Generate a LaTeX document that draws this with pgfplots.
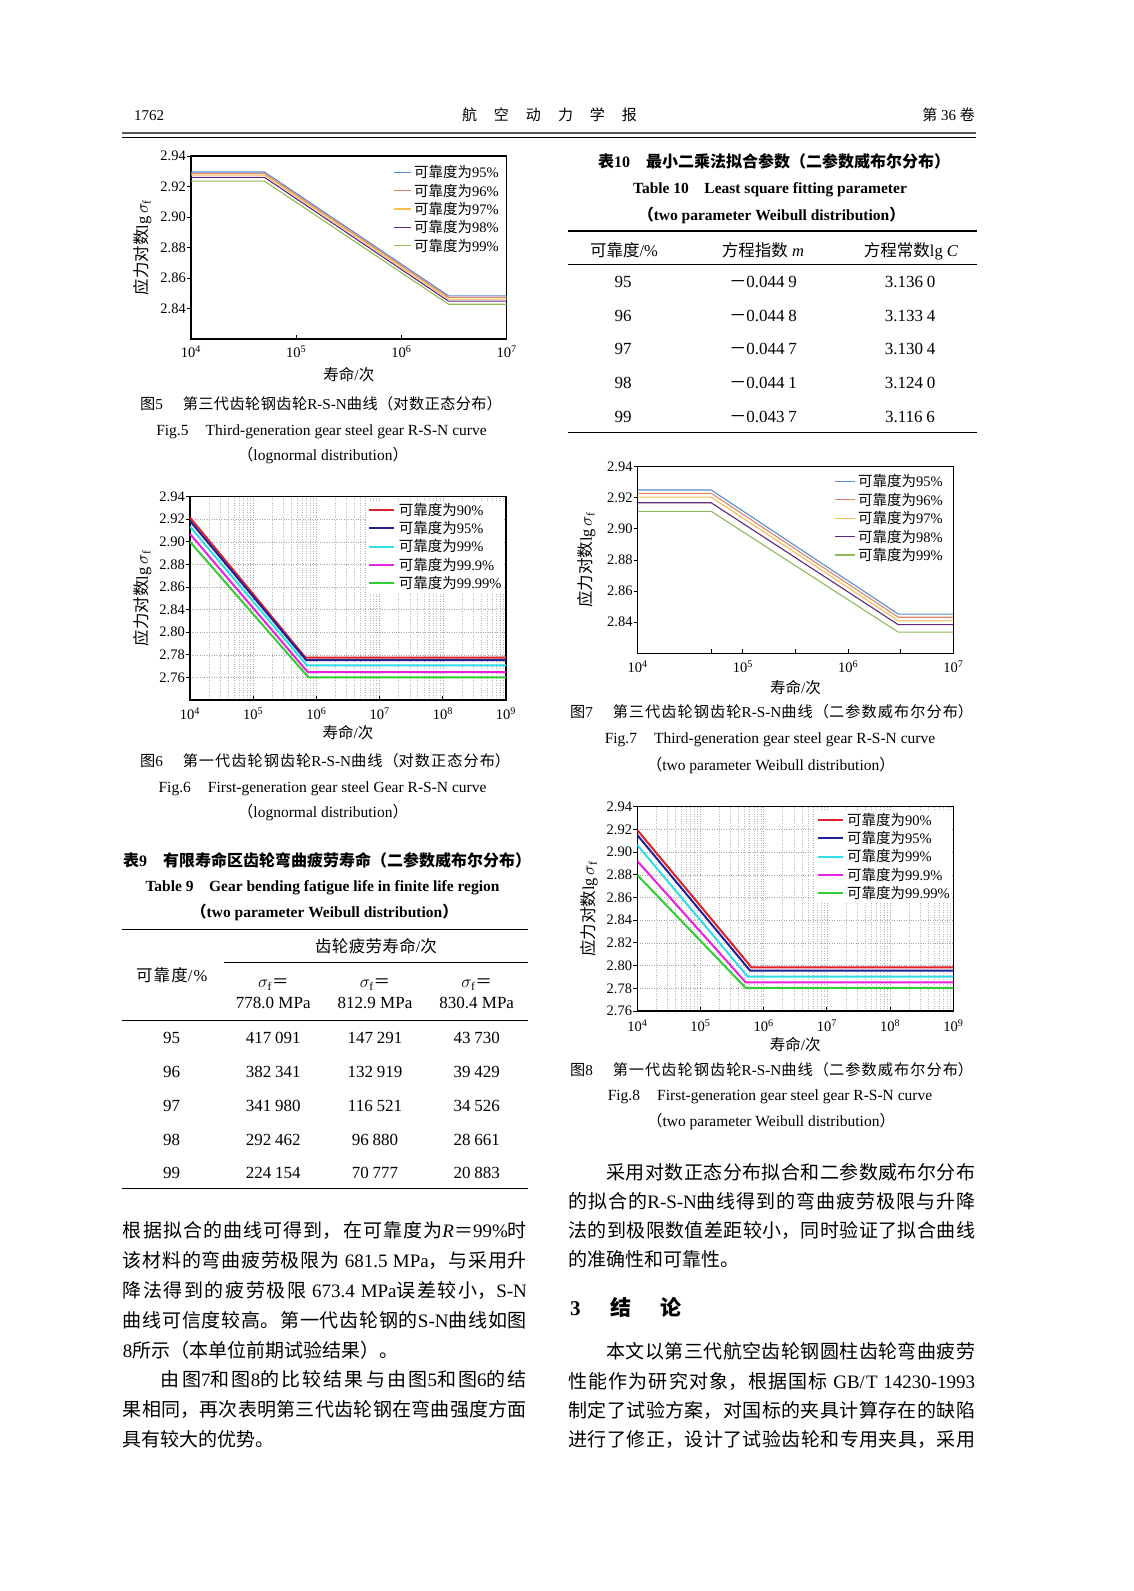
\documentclass[border=0pt]{standalone}
\usepackage{fontspec}
\usepackage{pgfplots}
\pgfplotsset{compat=1.18}
\setmainfont{Liberation Serif}
\newfontfamily\cjk{Noto Sans CJK SC}

% switch to the CJK font for Chinese characters, back to the serif for the rest
\XeTeXinterchartokenstate=1
\newXeTeXintercharclass\cjkclass
\newcount\cc
\def\setclass#1#2#3{\cc=#1\relax\loop\XeTeXcharclass\cc=#3\relax\ifnum\cc<#2\relax\advance\cc by 1\relax\repeat}
\setclass{33}{591}{0}
\setclass{"3000}{"303F}{\cjkclass}
\setclass{"4E00}{"9FFF}{\cjkclass}
\setclass{"FF00}{"FFEF}{\cjkclass}
\XeTeXinterchartoks 0 \cjkclass = {\cjk}
\XeTeXinterchartoks 4095 \cjkclass = {\cjk}
\XeTeXinterchartoks \cjkclass 0 = {\rmfamily}
\XeTeXinterchartoks \cjkclass 4095 = {\rmfamily}
\XeTeXlinebreaklocale "zh"
\XeTeXlinebreakskip=0pt plus 3pt

\newsavebox\jb
\newcommand\jbox[2]{\sbox\jb{#2}\ifdim\wd\jb<#1\relax\parbox[b]{#1}{\parfillskip=0pt\parindent=0pt\hbadness=10000\relax#2}\else\usebox\jb\fi}
\newcommand\TL[3]{\node[anchor=base west,inner sep=0pt] at (#1pt,-#2pt) {#3};}
\newcommand\TC[3]{\node[anchor=base,inner sep=0pt] at (#1pt,-#2pt) {#3};}
\newcommand\TR[3]{\node[anchor=base east,inner sep=0pt] at (#1pt,-#2pt) {#3};}
\newcommand\gs{\hspace{0.22em}}

\newcommand\fhd{\fontsize{15}{15}\selectfont}
\newcommand\fbody{\fontsize{19}{19}\selectfont}
\newcommand\ftit{\bfseries\fontsize{16}{16}\selectfont}
\newcommand\fetit{\bfseries\fontsize{15.5}{15.5}\selectfont}
\newcommand\fcap{\fontsize{15.2}{15.2}\selectfont}
\newcommand\fecap{\fontsize{15.5}{15.5}\selectfont}
\newcommand\ftab{\fontsize{16.5}{16.5}\selectfont}
\newcommand\fnum{\fontsize{17}{17}\selectfont}
\newcommand\fsec{\bfseries\fontsize{21}{21}\selectfont}

\definecolor{cA}{RGB}{84,141,212}
\definecolor{cB}{RGB}{226,134,104}
\definecolor{cC}{RGB}{244,190,80}
\definecolor{cD}{RGB}{96,40,124}
\definecolor{cE}{RGB}{142,186,92}
\definecolor{sR}{RGB}{222,32,40}
\definecolor{sB}{RGB}{32,32,150}
\definecolor{sC}{RGB}{48,222,232}
\definecolor{sM}{RGB}{232,32,224}
\definecolor{sG}{RGB}{52,204,52}

\pgfplotsset{
  rsn/.style={
    scale only axis, anchor=south west,
    axis line style={line width=1.1pt},
    tick style={line width=0.9pt, black},
    major tick length=4pt, minor tick length=0pt,
    tick pos=left, xtick align=inside, ytick align=outside,
    tick label style={font=\fontsize{14.5}{14.5}\selectfont},
    yticklabel style={inner sep=1pt},
    xlabel style={font=\fontsize{15.5}{15.5}\selectfont},
    ylabel style={font=\fontsize{16.5}{16.5}\selectfont},
    legend cell align=left,
    legend style={draw=none, fill=none, inner sep=0pt, at={(rel axis cs:1,1)},
      anchor=north east, font=\fontsize{14.5}{14.5}\selectfont,
      row sep=3.6pt, column sep=2pt, nodes={inner sep=0.5pt}},
  },
  gridded/.style={
    grid=both,
    major grid style={dotted, gray!70, line width=0.6pt},
    minor grid style={dotted, gray!55, line width=0.5pt},
    minor xtick={2e4,3e4,4e4,5e4,6e4,7e4,8e4,9e4,2e5,3e5,4e5,5e5,6e5,7e5,8e5,9e5,
      2e6,3e6,4e6,5e6,6e6,7e6,8e6,9e6,2e7,3e7,4e7,5e7,6e7,7e7,8e7,9e7,
      2e8,3e8,4e8,5e8,6e8,7e8,8e8,9e8},
    xtick={1e4,1e5,1e6,1e7,1e8,1e9},
    xticklabels={10\textsuperscript{4},10\textsuperscript{5},10\textsuperscript{6},
      10\textsuperscript{7},10\textsuperscript{8},10\textsuperscript{9}},
  },
  l5/.style={line width=1.1pt},
  l6/.style={line width=2pt},
}

\begin{document}
\begin{tikzpicture}
\path[use as bounding box] (0pt,0pt) rectangle (1134pt,-1591pt);
\fill[white] (0pt,0pt) rectangle (1134pt,-1591pt);

% running head
\TL{134}{120}{\fhd 1762}
\TC{549.5}{120}{\fhd 航\hspace{17pt}空\hspace{17pt}动\hspace{17pt}力\hspace{17pt}学\hspace{17pt}报}
\TR{975}{120}{\fhd 第 36 卷}
\draw[line width=1.5pt, black!65] (122pt,-133pt) -- (976pt,-133pt);
\draw[line width=0.6pt] (122pt,-137pt) -- (976pt,-137pt);

% ---------- Fig. 5 ----------
\begin{semilogxaxis}[rsn, at={(191pt,-339pt)}, width=315.7pt, height=183pt,
  xmin=1e4, xmax=1e7, ymin=2.82, ymax=2.94,
  xtick={1e4,1e5,1e6,1e7},
  xticklabels={10\textsuperscript{4},10\textsuperscript{5},10\textsuperscript{6},10\textsuperscript{7}},
  ytick={2.84,2.86,2.88,2.90,2.92,2.94},
  yticklabels={2.84,2.86,2.88,2.90,2.92,2.94},
  xticklabel style={anchor=center, yshift=-12.7pt},
  xlabel={寿命/次}, ylabel={应力对数lg\,$\sigma_{\mathrm{f}}$},
  xlabel style={at={(axis description cs:0.5,0)}, anchor=center, yshift=-36pt},
  ylabel style={at={(axis description cs:-0.153,0.5)}, anchor=center},
  legend style={xshift=-7.2pt, yshift=-8.7pt},
  legend image code/.code={\draw[#1] (0pt,0pt) -- (17pt,0pt);},
]
\addplot[color=cA, l5] coordinates {(1e4,2.9295)(5e4,2.9295)(2.8e6,2.8483)(1e7,2.8483)};
\addlegendentry{可靠度为95\%}
\addplot[color=cB, l5] coordinates {(1e4,2.9285)(5e4,2.9285)(2.8e6,2.8473)(1e7,2.8473)};
\addlegendentry{可靠度为96\%}
\addplot[color=cC, l5] coordinates {(1e4,2.9275)(5e4,2.9275)(2.8e6,2.8462)(1e7,2.8462)};
\addlegendentry{可靠度为97\%}
\addplot[color=cD, l5] coordinates {(1e4,2.9260)(5e4,2.9260)(2.8e6,2.8448)(1e7,2.8448)};
\addlegendentry{可靠度为98\%}
\addplot[color=cE, l5] coordinates {(1e4,2.9235)(5e4,2.9235)(2.8e6,2.8428)(1e7,2.8428)};
\addlegendentry{可靠度为99\%}
\end{semilogxaxis}
\TL{140}{409.1}{\fcap\jbox{361.7pt}{图5\hspace{1.3em}第三代齿轮钢齿轮R-S-N曲线（对数正态分布）}}
\TC{321.5}{435}{\fecap Fig.5\hspace{1.1em}Third-generation gear steel gear R-S-N curve}
\TC{323}{460.8}{\fecap （lognormal distribution）}

% ---------- Fig. 6 ----------
\begin{semilogxaxis}[rsn, gridded, at={(190pt,-700pt)}, width=316pt, height=203.3pt,
  xmin=1e4, xmax=1e9, ymin=2.74, ymax=2.92,
  ytick={2.76,2.78,2.80,2.82,2.84,2.86,2.88,2.90,2.92},
  yticklabels={2.76,2.78,2.80,2.84,2.86,2.88,2.90,2.92,2.94},
  xticklabel style={anchor=center, yshift=-14pt},
  xlabel={寿命/次}, ylabel={应力对数lg\,$\sigma_{\mathrm{f}}$},
  xlabel style={at={(axis description cs:0.5,0)}, anchor=center, yshift=-33pt},
  ylabel style={at={(axis description cs:-0.150,0.5)}, anchor=center},
  legend style={fill=white, inner sep=2pt, xshift=-1.8pt, yshift=-3.6pt, column sep=3pt},
  legend image code/.code={\draw[#1] (0pt,0pt) -- (25pt,0pt);},
]
\addplot[color=sR, l6] coordinates {(1e4,2.9015)(6.7e5,2.7776)(1e9,2.7776)};
\addlegendentry{可靠度为90\%}
\addplot[color=sB, l6] coordinates {(1e4,2.8985)(6.9e5,2.7753)(1e9,2.7753)};
\addlegendentry{可靠度为95\%}
\addplot[color=sC, l6] coordinates {(1e4,2.8935)(7.1e5,2.7706)(1e9,2.7706)};
\addlegendentry{可靠度为99\%}
\addplot[color=sM, l6] coordinates {(1e4,2.8870)(7.3e5,2.7647)(1e9,2.7647)};
\addlegendentry{可靠度为99.9\%}
\addplot[color=sG, l6] coordinates {(1e4,2.8800)(7.5e5,2.7600)(1e9,2.7600)};
\addlegendentry{可靠度为99.99\%}
\end{semilogxaxis}
\TL{140}{766.8}{\fcap\jbox{370pt}{图6\hspace{1.3em}第一代齿轮钢齿轮R-S-N曲线（对数正态分布）}}
\TC{322.5}{792.7}{\fecap Fig.6\hspace{1.1em}First-generation gear steel Gear R-S-N curve}
\TC{323}{817.5}{\fecap （lognormal distribution）}

% ---------- Table 9 ----------
\TL{123}{866}{\ftit\jbox{404pt}{表9\quad 有限寿命区齿轮弯曲疲劳寿命（二参数威布尔分布）}}
\TC{322.5}{891}{\fetit Table 9\quad Gear bending fatigue life in finite life region}
\TC{324.5}{917.2}{\fetit （two parameter Weibull distribution）}
\draw[line width=1.4pt] (121.7pt,-929.3pt) -- (528.3pt,-929.3pt);
\TC{376}{952.7}{\ftab\jbox{121.7pt}{齿轮疲劳寿命/次}}
\draw[line width=0.8pt] (224pt,-962.7pt) -- (528.3pt,-962.7pt);
\TC{171.7}{981.7}{\ftab\jbox{71.3pt}{可靠度/\%}}
\TC{273.3}{987.7}{\ftab $\sigma_{\mathrm{f}}$＝}
\TC{375}{987.7}{\ftab $\sigma_{\mathrm{f}}$＝}
\TC{476.7}{987.7}{\ftab $\sigma_{\mathrm{f}}$＝}
\TC{273.3}{1008.8}{\fnum 778.0 MPa}
\TC{375}{1008.8}{\fnum 812.9 MPa}
\TC{476.7}{1008.8}{\fnum 830.4 MPa}
\draw[line width=0.9pt] (121.7pt,-1020.7pt) -- (528.3pt,-1020.7pt);
\TC{171.7}{1043.1}{\fnum 95}
\TC{273.3}{1043.1}{\fnum 417\gs 091}
\TC{375}{1043.1}{\fnum 147\gs 291}
\TC{476.7}{1043.1}{\fnum 43\gs 730}
\TC{171.7}{1077.5}{\fnum 96}
\TC{273.3}{1077.5}{\fnum 382\gs 341}
\TC{375}{1077.5}{\fnum 132\gs 919}
\TC{476.7}{1077.5}{\fnum 39\gs 429}
\TC{171.7}{1111.8}{\fnum 97}
\TC{273.3}{1111.8}{\fnum 341\gs 980}
\TC{375}{1111.8}{\fnum 116\gs 521}
\TC{476.7}{1111.8}{\fnum 34\gs 526}
\TC{171.7}{1145.1}{\fnum 98}
\TC{273.3}{1145.1}{\fnum 292\gs 462}
\TC{375}{1145.1}{\fnum 96\gs 880}
\TC{476.7}{1145.1}{\fnum 28\gs 661}
\TC{171.7}{1178.5}{\fnum 99}
\TC{273.3}{1178.5}{\fnum 224\gs 154}
\TC{375}{1178.5}{\fnum 70\gs 777}
\TC{476.7}{1178.5}{\fnum 20\gs 883}
\draw[line width=1.4pt] (121.7pt,-1188.3pt) -- (528.3pt,-1188.3pt);

% ---------- left column text ----------
\TL{122.7}{1237.2}{\fbody\jbox{404pt}{根据拟合的曲线可得到，在可靠度为\textit{R}＝99\%时}}
\TL{122.7}{1267.1}{\fbody\jbox{404pt}{该材料的弯曲疲劳极限为 681.5 MPa，与采用升}}
\TL{122.7}{1297.1}{\fbody\jbox{404pt}{降法得到的疲劳极限 673.4 MPa误差较小，S-N}}
\TL{122.7}{1327.0}{\fbody\jbox{404pt}{曲线可信度较高。第一代齿轮钢的S-N曲线如图}}
\TL{122.7}{1357.0}{\fbody 8所示（本单位前期试验结果）。}
\TL{160.7}{1386.9}{\fbody\jbox{366pt}{由图7和图8的比较结果与由图5和图6的结}}
\TL{122.7}{1416.8}{\fbody\jbox{404pt}{果相同，再次表明第三代齿轮钢在弯曲强度方面}}
\TL{122.7}{1446.8}{\fbody 具有较大的优势。}

% ---------- Table 10 ----------
\TL{598}{167}{\ftit\jbox{345pt}{表10\quad 最小二乘法拟合参数（二参数威布尔分布）}}
\TC{770}{193.3}{\fetit Table 10\quad Least square fitting parameter}
\TC{771.5}{220.5}{\fetit （two parameter Weibull distribution）}
\draw[line width=1.4pt] (568pt,-231pt) -- (977pt,-231pt);
\TC{624}{256}{\ftab 可靠度/\%}
\TC{763}{256}{\ftab 方程指数 \textit{m}}
\TC{911}{256}{\ftab 方程常数lg \textit{C}}
\draw[line width=0.9pt] (568pt,-264.3pt) -- (977pt,-264.3pt);
\TC{623}{287.5}{\fnum 95}
\TC{763}{287.5}{\fnum －0.044\gs 9}
\TC{910}{287.5}{\fnum 3.136\gs 0}
\TC{623}{321.5}{\fnum 96}
\TC{763}{321.5}{\fnum －0.044\gs 8}
\TC{910}{321.5}{\fnum 3.133\gs 4}
\TC{623}{354.8}{\fnum 97}
\TC{763}{354.8}{\fnum －0.044\gs 7}
\TC{910}{354.8}{\fnum 3.130\gs 4}
\TC{623}{388.5}{\fnum 98}
\TC{763}{388.5}{\fnum －0.044\gs 1}
\TC{910}{388.5}{\fnum 3.124\gs 0}
\TC{623}{422.5}{\fnum 99}
\TC{763}{422.5}{\fnum －0.043\gs 7}
\TC{910}{422.5}{\fnum 3.116\gs 6}
\draw[line width=1.4pt] (568pt,-432.3pt) -- (977pt,-432.3pt);

% ---------- Fig. 7 ----------
\begin{semilogxaxis}[rsn, at={(637.7pt,-653.3pt)}, width=315.6pt, height=186.6pt,
  xmin=1e4, xmax=1e7, ymin=2.82, ymax=2.94,
  xtick={1e4,1e5,1e6,1e7},
  xticklabels={10\textsuperscript{4},10\textsuperscript{5},10\textsuperscript{6},10\textsuperscript{7}},
  extra x ticks={50000,316228,3162278}, extra x tick labels={},
  ytick={2.84,2.86,2.88,2.90,2.92,2.94},
  yticklabels={2.84,2.86,2.88,2.90,2.92,2.94},
  xticklabel style={anchor=center, yshift=-13.4pt},
  xlabel={寿命/次}, ylabel={应力对数lg\,$\sigma_{\mathrm{f}}$},
  xlabel style={at={(axis description cs:0.5,0)}, anchor=center, yshift=-34.4pt},
  ylabel style={at={(axis description cs:-0.162,0.5)}, anchor=center},
  legend style={xshift=-9.8pt, yshift=-7.3pt},
  legend image code/.code={\draw[#1] (0pt,0pt) -- (20pt,0pt);},
]
\addplot[color=cA, l5] coordinates {(1e4,2.9250)(5e4,2.9250)(3e6,2.8452)(1e7,2.8452)};
\addlegendentry{可靠度为95\%}
\addplot[color=cB, l5] coordinates {(1e4,2.9229)(5e4,2.9229)(3e6,2.8432)(1e7,2.8432)};
\addlegendentry{可靠度为96\%}
\addplot[color=cC, l5] coordinates {(1e4,2.9204)(5e4,2.9204)(3e6,2.8409)(1e7,2.8409)};
\addlegendentry{可靠度为97\%}
\addplot[color=cD, l5] coordinates {(1e4,2.9168)(5e4,2.9168)(3e6,2.8384)(1e7,2.8384)};
\addlegendentry{可靠度为98\%}
\addplot[color=cE, l5] coordinates {(1e4,2.9113)(5e4,2.9113)(3e6,2.8336)(1e7,2.8336)};
\addlegendentry{可靠度为99\%}
\end{semilogxaxis}
\TL{570}{717.5}{\fcap\jbox{403pt}{图7\hspace{1.3em}第三代齿轮钢齿轮R-S-N曲线（二参数威布尔分布）}}
\TC{770}{743.3}{\fecap Fig.7\hspace{1.1em}Third-generation gear steel gear R-S-N curve}
\TC{770.8}{770.8}{\fecap （two parameter Weibull distribution）}

% ---------- Fig. 8 ----------
\begin{semilogxaxis}[rsn, gridded, at={(637.3pt,-1011pt)}, width=316pt, height=204.3pt,
  xmin=1e4, xmax=1e9, ymin=2.76, ymax=2.94,
  ytick={2.76,2.78,2.80,2.82,2.84,2.86,2.88,2.90,2.92,2.94},
  yticklabels={2.76,2.78,2.80,2.82,2.84,2.86,2.88,2.90,2.92,2.94},
  xticklabel style={anchor=center, yshift=-15pt},
  xlabel={寿命/次}, ylabel={应力对数lg\,$\sigma_{\mathrm{f}}$},
  xlabel style={at={(axis description cs:0.5,0)}, anchor=center, yshift=-33.3pt},
  ylabel style={at={(axis description cs:-0.153,0.5)}, anchor=center},
  legend style={fill=white, inner sep=2pt, xshift=-0.8pt, yshift=-3.6pt, column sep=2.3pt},
  legend image code/.code={\draw[#1] (0pt,0pt) -- (25pt,0pt);},
]
\addplot[color=sR, l6] coordinates {(1e4,2.9194)(6.4e5,2.7985)(1e9,2.7985)};
\addlegendentry{可靠度为90\%}
\addplot[color=sB, l6] coordinates {(1e4,2.9150)(6.1e5,2.7955)(1e9,2.7955)};
\addlegendentry{可靠度为95\%}
\addplot[color=sC, l6] coordinates {(1e4,2.9062)(5.6e5,2.7902)(1e9,2.7902)};
\addlegendentry{可靠度为99\%}
\addplot[color=sM, l6] coordinates {(1e4,2.8921)(5.2e5,2.7852)(1e9,2.7852)};
\addlegendentry{可靠度为99.9\%}
\addplot[color=sG, l6] coordinates {(1e4,2.8798)(5.2e5,2.7803)(1e9,2.7803)};
\addlegendentry{可靠度为99.99\%}
\end{semilogxaxis}
\TL{570}{1075.8}{\fcap\jbox{403pt}{图8\hspace{1.3em}第一代齿轮钢齿轮R-S-N曲线（二参数威布尔分布）}}
\TC{770}{1100}{\fecap Fig.8\hspace{1.1em}First-generation gear steel gear R-S-N curve}
\TC{771}{1126.5}{\fecap （two parameter Weibull distribution）}

% ---------- right column text ----------
\TL{606.3}{1179}{\fbody\jbox{368.7pt}{采用对数正态分布拟合和二参数威布尔分布}}
\TL{568.3}{1208.4}{\fbody\jbox{406.7pt}{的拟合的R-S-N曲线得到的弯曲疲劳极限与升降}}
\TL{568.3}{1237}{\fbody\jbox{406.7pt}{法的到极限数值差距较小，同时验证了拟合曲线}}
\TL{568.3}{1266}{\fbody 的准确性和可靠性。}
\TL{570}{1315}{\fsec 3}
\TL{610}{1315}{\fsec 结}
\TL{660}{1315}{\fsec 论}
\TL{606.3}{1358.7}{\fbody\jbox{368.7pt}{本文以第三代航空齿轮钢圆柱齿轮弯曲疲劳}}
\TL{568.3}{1388}{\fbody\jbox{406.7pt}{性能作为研究对象，根据国标 GB/T 14230-1993}}
\TL{568.3}{1417.4}{\fbody\jbox{406.7pt}{制定了试验方案，对国标的夹具计算存在的缺陷}}
\TL{568.3}{1446.8}{\fbody\jbox{406.7pt}{进行了修正，设计了试验齿轮和专用夹具，采用}}
\end{tikzpicture}
\end{document}
